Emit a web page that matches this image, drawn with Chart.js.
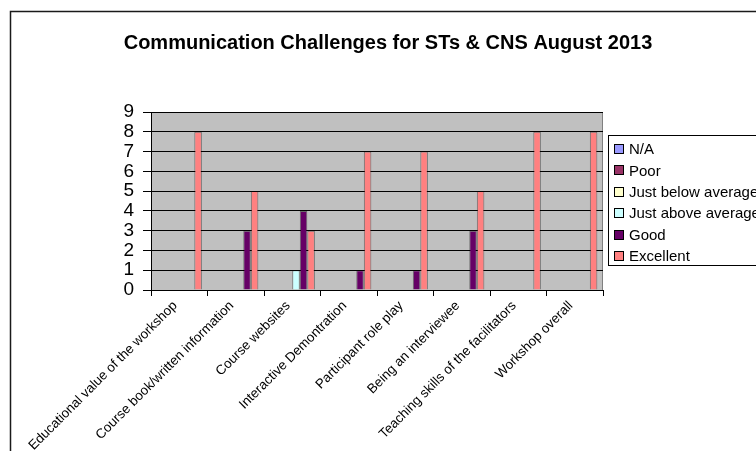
<!DOCTYPE html>
<html>
<head>
<meta charset="utf-8">
<script src="https://cdn.jsdelivr.net/npm/chart.js@4"></script>
<style>
  html, body { margin: 0; padding: 0; background: #fff; overflow: hidden; }
  #wrap { position: absolute; left: 0; top: 0; width: 776px; height: 470px; }
</style>
</head>
<body>
<div id="wrap"><canvas id="surveyChart" width="776" height="470"></canvas></div>
<script>
// survey answers per question
const questions = [
    'Educational value of the workshop',
    'Course book/written information',
    'Course websites',
    'Interactive Demontration',
    'Participant role play',
    'Being an interviewee',
    'Teaching skills of the facilitators',
    'Workshop overall'
];
const naVotes = [0, 0, 0, 0, 0, 0, 0, 0];
const poorVotes = [0, 0, 0, 0, 0, 0, 0, 0];
const belowAvgVotes = [0, 0, 0, 0, 0, 0, 0, 0];
const aboveAvgVotes = [0, 0, 1, 0, 0, 0, 0, 0];
const goodVotes = [0, 3, 4, 1, 1, 3, 0, 0];
const excellentVotes = [8, 5, 3, 7, 7, 5, 8, 8];
const yMax = 9;

const fontName = '"Liberation Sans", Arial, sans-serif';

const seriesList = [
    { label: 'N/A', data: naVotes, color: '#9999FF' },
    { label: 'Poor', data: poorVotes, color: '#993366' },
    { label: 'Just below average', data: belowAvgVotes, color: '#FFFFCC' },
    { label: 'Just above average', data: aboveAvgVotes, color: '#CCFFFF' },
    { label: 'Good', data: goodVotes, color: '#660066' },
    { label: 'Excellent', data: excellentVotes, color: '#FF8080' }
];

// grey plot area + frame round the whole chart
const backdrop = {
    id: 'backdrop',
    beforeDraw(chart) {
        const c = chart.ctx;
        const a = chart.chartArea;
        c.save();
        c.fillStyle = '#C0C0C0';
        c.fillRect(a.left, a.top, a.right - a.left, a.bottom - a.top);
        c.strokeStyle = '#808080';
        c.lineWidth = 1;
        c.strokeRect(a.left + 0.5, a.top + 0.5, a.right - a.left - 1, a.bottom - a.top);
        c.strokeStyle = '#1a1a1a';
        c.lineWidth = 1.5;
        c.strokeRect(10.5, 11.5, 755, 500);
        c.restore();
    }
};

// legend box on the right, like the old excel one
const boxLegend = {
    id: 'boxLegend',
    afterDraw(chart) {
        const c = chart.ctx;
        c.save();
        c.fillStyle = '#fff';
        c.fillRect(608.5, 135.5, 170, 130);
        c.strokeStyle = '#000';
        c.lineWidth = 1;
        c.strokeRect(608.5, 135.5, 170, 130);
        c.font = '15px ' + fontName;
        c.textBaseline = 'middle';
        chart.data.datasets.forEach((ds, i) => {
            const y = 149 + i * 21.4;
            c.fillStyle = ds.backgroundColor;
            c.fillRect(614.5, Math.round(y - 5) + 0.5, 9, 9);
            c.strokeStyle = '#000';
            c.strokeRect(614.5, Math.round(y - 5) + 0.5, 9, 9);
            c.fillStyle = '#000';
            c.fillText(ds.label, 629, y + 1);
        });
        c.restore();
    }
};

const ctx = document.getElementById('surveyChart').getContext('2d');
const surveyChart = new Chart(ctx, {
    type: 'bar',
    data: {
        labels: questions,
        datasets: seriesList.map(s => ({
            label: s.label,
            data: s.data,
            backgroundColor: s.color,
            borderColor: 'rgba(0,0,0,0.45)',
            borderWidth: 1,
            borderSkipped: 'bottom',
            categoryPercentage: 0.8,
            barPercentage: 1
        }))
    },
    options: {
        responsive: false,
        animation: false,
        devicePixelRatio: 1,
        layout: { padding: 0 },
        plugins: {
            legend: { display: false },
            tooltip: { enabled: false },
            title: {
                display: true,
                text: 'Communication Challenges for STs & CNS August 2013',
                color: '#000',
                font: { family: fontName, size: 20, weight: 'bold', lineHeight: 1.2 },
                padding: { top: 31, bottom: 57 }
            }
        },
        scales: {
            x: {
                grid: {
                    display: true,
                    offset: true,
                    drawOnChartArea: false,
                    drawTicks: true,
                    tickLength: 6,
                    color: '#000'
                },
                border: { display: true, color: '#000', width: 1 },
                ticks: {
                    autoSkip: false,
                    maxRotation: 45,
                    minRotation: 45,
                    padding: 2,
                    labelOffset: -4,
                    color: '#000',
                    font: { family: fontName, size: 13.4 }
                },
                afterFit(scale) { scale.height = 180; }
            },
            y: {
                min: 0,
                max: yMax,
                grid: {
                    color: '#000',
                    lineWidth: 1,
                    drawTicks: true,
                    tickLength: 8
                },
                border: { display: true, color: '#000', width: 1 },
                ticks: {
                    stepSize: 1,
                    autoSkip: false,
                    padding: 9,
                    color: '#000',
                    font: { family: fontName, size: 19 }
                },
                afterFit(scale) { scale.width = 151; }
            },
            // empty room on the right where the legend sits
            side: {
                position: 'right',
                display: true,
                grid: { display: false },
                border: { display: false },
                ticks: { display: false },
                afterFit(scale) { scale.width = 173; }
            }
        }
    },
    plugins: [backdrop, boxLegend]
});
</script>
</body>
</html>
